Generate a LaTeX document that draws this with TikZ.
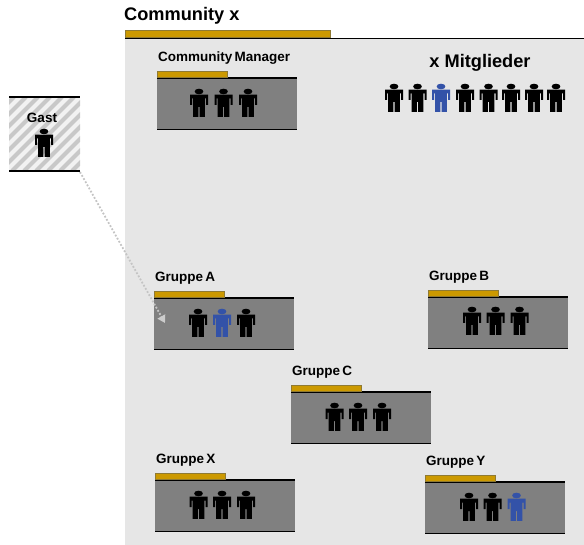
\documentclass[tikz,border=0pt]{standalone}
\usepackage{fontspec}
\setmainfont{Liberation Sans}
\newfontfamily\tightfont{Liberation Sans}[WordSpace=0.6]
\usetikzlibrary{arrows.meta}
\definecolor{panelgray}{HTML}{E6E6E6}
\definecolor{boxgray}{HTML}{808080}
\definecolor{goldbar}{HTML}{CC9900}
\definecolor{goldedge}{HTML}{8F7A33}
\definecolor{memberblue}{HTML}{3352A8}
\definecolor{stripe}{HTML}{C8C8C8}
\definecolor{arrowgray}{HTML}{C4C4C4}
\definecolor{headgray}{HTML}{CCCCCC}
\tikzset{
  x=1pt,y=-1pt,
  panel/.style={fill=panelgray,draw=none},
  groupbox/.style={fill=boxgray,draw=none},
  blackline/.style={draw=black,line width=1.8pt},
  bar/.style={fill=goldbar,draw=goldedge,line width=0.8pt},
  grouplabel/.style={anchor=west,font=\tightfont\bfseries\fontsize{13.5}{15}\selectfont,inner sep=0pt},
  pics/person/.style={code={
    \fill[#1] (0,-11.5) ellipse (4.4 and 2.8);
    \fill[#1] (-9,-8.3) -- (9,-8.3) -- (9,2) -- (7,2) -- (7,-4.5) -- (5.8,-4.5) -- (5.8,13.8)
      -- (0.6,13.8) -- (0.6,4) -- (-0.6,4) -- (-0.6,13.8) -- (-5.8,13.8) -- (-5.8,-4.5) -- (-7,-4.5)
      -- (-7,2) -- (-9,2) -- cycle;
  }},
  pics/person/.default=black
}
\newcommand{\groupunit}[5]{% name, x, y of box top-left, bar offset y, label
  \path[groupbox] (#2,#3) rectangle ++(140,51.5);
  \draw[blackline] (#2,#3) -- ++(140,0);
  \draw[blackline] (#2,#3+51.5) -- ++(140,0);
  \path[bar] (#2,#3-7) rectangle ++(70,6);
  \node[grouplabel] (#1) at (#2+1,#3-20) {#5};
  \coordinate (#1box) at (#2,#3);
}
\begin{document}
\begin{tikzpicture}
\useasboundingbox (0,0) rectangle (584,545);
% community panel
\path[panel] (125,38) rectangle (584,545);
\path[bar] (125,30) rectangle (330,37.5);
\draw[blackline] (125,38.5) -- (584,38.5);
\node[anchor=west,inner sep=0pt,font=\bfseries\fontsize{18.2}{21}\selectfont] (community) at (124,15.5) {Community x};
\node[font=\bfseries\fontsize{18.2}{21}\selectfont,inner sep=0pt] (members) at (480,62.5) {x Mitglieder};
\foreach \px/\pc in {394/black,417.5/black,441/memberblue,465/black,488.5/black,511/black,534/black,556/black}
  \pic at (\px,98) {person=\pc};
% guest
\begin{scope}
  \clip (9,97) rectangle (80,171);
  \fill[white!95!black] (9,97) rectangle (80,171);
  \foreach \s in {-84,-72,...,168}
    \draw[stripe,line width=4pt] (\s,171) -- (\s+74,97);
\end{scope}
\draw[blackline] (9,97) -- (80,97);
\draw[blackline] (9,171) -- (80,171);
\coordinate (gastcorner) at (80,172);
\node[font=\bfseries\fontsize{13.5}{15}\selectfont,inner sep=0pt] (gast) at (42,118) {Gast};
\pic at (44,143) {person};
% groups
\groupunit{manager}{157}{78}{7}{Community Manager}
\foreach \px in {199,223.5,248} \pic at (\px,103) {person};
\groupunit{gruppea}{154}{298}{7}{Gruppe A}
\foreach \px/\pc in {198/black,222/memberblue,246/black} \pic at (\px,323) {person=\pc};
\groupunit{gruppeb}{428}{297}{7}{Gruppe B}
\foreach \px in {472,495.5,519.5} \pic at (\px,321) {person};
\groupunit{gruppec}{291}{392}{7}{Gruppe C}
\foreach \px in {334.5,358,382} \pic at (\px,417) {person};
\groupunit{gruppex}{155}{480}{7}{Gruppe X}
\foreach \px in {198.5,222,246} \pic at (\px,505) {person};
\groupunit{gruppey}{425}{482}{7}{Gruppe Y}
\foreach \px/\pc in {469/black,492.5/black,516.5/memberblue} \pic at (\px,507) {person=\pc};
% guest arrow
\coordinate (arrowend) at (165,323);
\draw[draw=arrowgray,line width=1.8pt,dash pattern=on 1.8pt off 1.8pt,-{Triangle[length=7.5pt,width=8.5pt,color=headgray,fill=headgray]}] (gastcorner) -- (arrowend);
\end{tikzpicture}
\end{document}
